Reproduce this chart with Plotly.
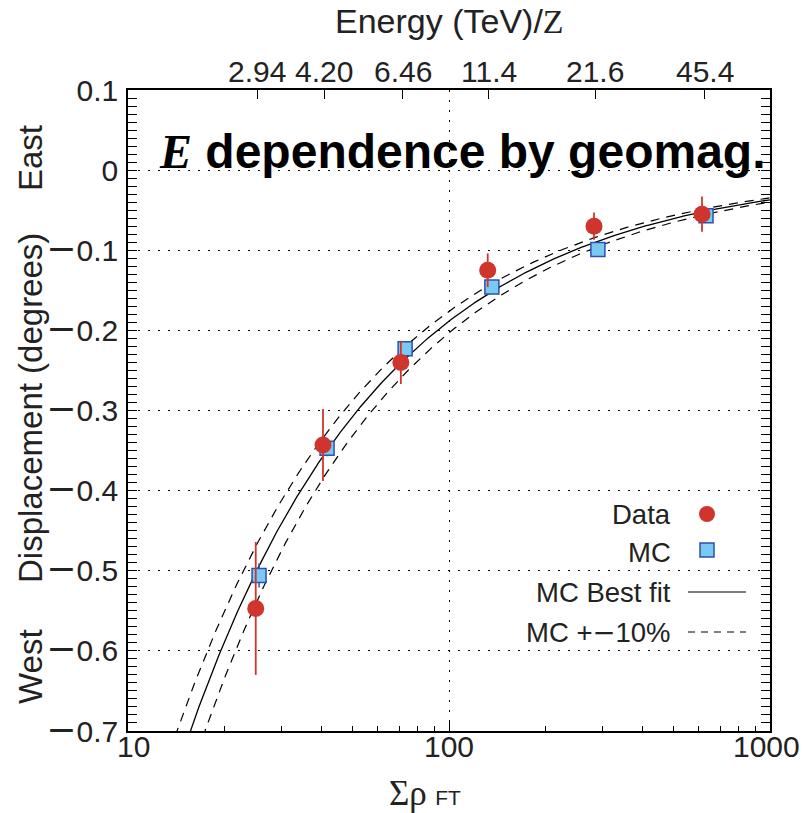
import numpy as np
import plotly.graph_objects as go

# --- measured points ---------------------------------------------------------
data_x = [25.0, 40.5, 70.8, 132.0, 283.0, 614.0]
data_y = [-0.547, -0.343, -0.240, -0.125, -0.070, -0.055]
data_err = [0.083, 0.045, 0.027, 0.021, 0.017, 0.022]

mc_x = [25.6, 41.7, 73.0, 136.0, 291.0, 632.0]
mc_y = [-0.506, -0.347, -0.223, -0.146, -0.099, -0.057]
mc_err = [0.015, 0.010, 0.006, 0.005, 0.004, 0.004]

# energy scale shown on the top axis (Sigma-rho bin centres -> TeV/Z)
energy_pos = [25.3, 40.8, 71.8, 133.0, 286.0, 626.0]
energy_labels = ["2.94", "4.20", "6.46", "11.4", "21.6", "45.4"]

# best-fit power law to the MC points: y = -A * x^(-B)
FIT_A = 4.89
FIT_B = 0.707
FIT_SPREAD = 0.10   # +-10% band in Sigma-rho

x_ticks = [10, 100, 1000]
x_tick_shift = [5, 0, -4]
y_ticks = [0.1, 0.0, -0.1, -0.2, -0.3, -0.4, -0.5, -0.6, -0.7]

W, H = 807, 813
L, R, T, B = 128, 37, 90, 82

SANS = "Liberation Sans, Arial, sans-serif"
MINUS = "<span style=\"font-family:DejaVu Sans;font-size:36px\">\u2212</span>"
KEY_MINUS = "<span style=\"font-family:DejaVu Sans\">\u2212</span>"
TXT = "#222222"


def fit(x):
    return -FIT_A * np.power(x, -FIT_B)


def ylabel(v):
    if v == 0:
        return "0"
    return (MINUS if v < 0 else "") + "%.1f" % abs(v)


xs = np.logspace(1.0, 3.0, 400)
band_dash = "9px,7px"

fig = go.Figure()

fig.add_trace(go.Scatter(x=xs, y=fit(xs * (1 + FIT_SPREAD)), mode="lines",
                         line=dict(color="black", width=1.2, dash=band_dash),
                         showlegend=False, hoverinfo="skip"))
fig.add_trace(go.Scatter(x=xs, y=fit(xs * (1 - FIT_SPREAD)), mode="lines",
                         line=dict(color="black", width=1.2, dash=band_dash),
                         showlegend=False, hoverinfo="skip"))
fig.add_trace(go.Scatter(x=xs, y=fit(xs), mode="lines",
                         line=dict(color="black", width=1.3),
                         showlegend=False, hoverinfo="skip"))

fig.add_trace(go.Scatter(
    x=mc_x, y=mc_y, mode="markers", name="MC",
    marker=dict(symbol="square", size=14, color="#78caf0",
                line=dict(color="#2f4fb0", width=1.5)),
    error_y=dict(type="data", array=mc_err, color="#2f4fb0",
                 thickness=1.5, width=0),
    showlegend=False))

fig.add_trace(go.Scatter(
    x=data_x, y=data_y, mode="markers", name="Data",
    marker=dict(symbol="circle", size=17, color="#cf352d"),
    error_y=dict(type="data", array=data_err, color="#cf352d",
                 thickness=1.8, width=0),
    showlegend=False))

# invisible trace carrying the top energy axis
fig.add_trace(go.Scatter(x=[10, 1000], y=[0, 0], xaxis="x2", mode="markers",
                         marker=dict(opacity=0), showlegend=False,
                         hoverinfo="skip"))

grid_dash = "2px,8px"
minor_x = [m * 10 ** d for d in (1, 2) for m in range(2, 10)]

fig.update_layout(
    width=W, height=H,
    margin=dict(l=L, r=R, t=T, b=B),
    paper_bgcolor="white", plot_bgcolor="white",
    font=dict(family=SANS, size=30, color=TXT),
    xaxis=dict(
        type="log", range=[1, 3],
        tickvals=x_ticks, showticklabels=False,
        ticks="inside", ticklen=9, tickwidth=1.2, tickcolor="black",
        showline=True, linecolor="black", linewidth=1.5,
        showgrid=True, gridcolor="black", gridwidth=1, griddash=grid_dash,
        minor=dict(tickvals=minor_x, ticks="inside", ticklen=5,
                   tickwidth=1, tickcolor="black", showgrid=False),
        zeroline=False, mirror=False,
    ),
    xaxis2=dict(
        type="log", range=[1, 3], overlaying="x", side="top",
        tickvals=energy_pos, showticklabels=False,
        ticks="inside", ticklen=9, tickwidth=1.2, tickcolor="black",
        showline=True, linecolor="black", linewidth=1.5,
        showgrid=False, zeroline=False,
    ),
    yaxis=dict(
        range=[-0.7, 0.1], tickvals=y_ticks,
        ticktext=[ylabel(v) for v in y_ticks],
        ticks="inside", ticklen=9, tickwidth=1.2, tickcolor="black",
        ticklabelstandoff=2,
        showline=True, linecolor="black", linewidth=1.5, mirror="allticks",
        showgrid=True, gridcolor="black", gridwidth=1, griddash=grid_dash,
        minor=dict(dtick=0.01, ticks="inside", ticklen=5, tickwidth=1,
                   tickcolor="black", showgrid=False),
        zeroline=False,
    ),
)


def px(xp):
    return (xp - L) / (W - L - R)


def py(yp):
    return 1 - (yp - T) / (H - T - B)


# tick labels set tight against the frame
for v, shift in zip(x_ticks, x_tick_shift):
    fig.add_annotation(text=str(v), xref="x", yref="paper", x=np.log10(v),
                       y=py(747), showarrow=False, xanchor="center",
                       xshift=shift, yanchor="middle",
                       font=dict(size=30, color=TXT))
for v, lab in zip(energy_pos, energy_labels):
    fig.add_annotation(text=lab, xref="x2", yref="paper", x=np.log10(v),
                       y=py(72), showarrow=False, xanchor="center",
                       yanchor="middle", font=dict(size=30, color=TXT))

# top axis caption
fig.add_annotation(
    text="Energy (TeV)/<span style=\"font-family:Liberation Serif\">Z</span>",
    xref="paper", yref="paper", x=px(450), y=py(21), showarrow=False,
    xanchor="center", yanchor="middle", font=dict(size=34, color=TXT))

# horizontal axis caption
fig.add_annotation(
    text="<span style=\"font-family:Liberation Serif;font-size:35px\">Σρ</span>"
         " <span style=\"font-size:21px\">FT</span>",
    xref="paper", yref="paper", x=px(425), y=py(793), showarrow=False,
    xanchor="center", yanchor="middle", font=dict(size=30, color=TXT))

# vertical axis caption: West ... Displacement (degrees) ... East
for text, ypix in [("East", 158), ("Displacement (degrees)", 408), ("West", 667)]:
    fig.add_annotation(text=text, xref="paper", yref="paper",
                       x=px(30), y=py(ypix), showarrow=False, textangle=-90,
                       font=dict(size=33, family=SANS, color=TXT),
                       xanchor="center", yanchor="middle")

# headline inside the frame
fig.add_annotation(
    text="<span style=\"font-family:Liberation Serif;font-style:italic\">E</span>"
         " dependence by geomag.",
    xref="paper", yref="paper", x=px(767), y=py(152), showarrow=False,
    xanchor="right", yanchor="middle",
    font=dict(size=48, family=SANS, color="black", weight="bold"))

# key in the lower right corner
key_rows = [("Data", 514), ("MC", 552), ("MC Best fit", 592),
            ("MC +" + KEY_MINUS + "10%", 632)]
for text, ypix in key_rows:
    fig.add_annotation(text=text, xref="paper", yref="paper",
                       x=px(673), y=py(ypix), showarrow=False,
                       xanchor="right", yanchor="middle",
                       font=dict(size=27.5, family=SANS, color=TXT))

fig.add_shape(type="circle", xref="paper", yref="paper",
              x0=px(699), x1=px(715), y0=py(506), y1=py(522),
              fillcolor="#cf352d", line=dict(width=0))
fig.add_shape(type="rect", xref="paper", yref="paper",
              x0=px(700), x1=px(714), y0=py(543), y1=py(557),
              fillcolor="#78caf0", line=dict(color="#2f4fb0", width=1.5))
fig.add_shape(type="line", xref="paper", yref="paper",
              x0=px(688), x1=px(746), y0=py(592), y1=py(592),
              line=dict(color="black", width=1.2))
fig.add_shape(type="line", xref="paper", yref="paper",
              x0=px(688), x1=px(746), y0=py(632), y1=py(632),
              line=dict(color="black", width=1.2, dash="7px,6px"))

fig.write_html("out.html")
